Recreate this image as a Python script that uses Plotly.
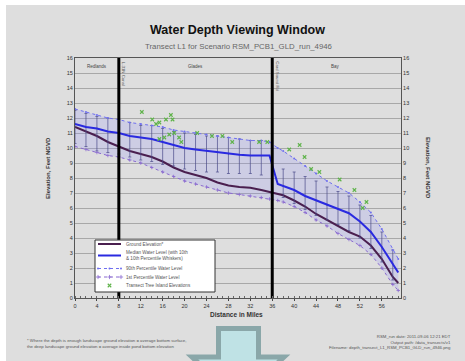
import plotly.graph_objects as go

# ---- profile data along the transect (distance in miles) ----
miles = [0, 2, 4, 6, 8, 10, 12, 14, 16, 18, 20, 22, 24, 26, 28, 30, 32, 34, 35.5, 37,
         38, 40, 42, 44, 46, 48, 50, 52, 54, 56, 58, 59]
ground = [11.4, 11.1, 10.8, 10.4, 10.1, 9.8, 9.6, 9.4, 9.1, 8.7, 8.4, 8.2, 8.0, 7.7, 7.5,
          7.4, 7.35, 7.2, 7.05, 6.95, 6.85, 6.5, 6.1, 5.6, 5.2, 4.8, 4.4, 4.1, 3.5, 2.6, 1.4, 1.0]
median = [11.6, 11.4, 11.3, 11.1, 11.0, 10.8, 10.7, 10.6, 10.4, 10.2, 10.0, 9.9, 9.8, 9.7,
          9.6, 9.55, 9.5, 9.5, 9.5, 7.6, 7.45, 7.2, 6.8, 6.5, 6.2, 5.95, 5.65, 5.1, 4.4, 3.4, 2.3, 1.7]
p90 = [12.6, 12.4, 12.2, 12.0, 11.9, 11.7, 11.6, 11.5, 11.4, 11.2, 11.1, 11.0, 10.9, 10.8,
       10.7, 10.6, 10.5, 10.5, 10.4, 10.0, 9.8, 9.3, 8.8, 8.3, 7.8, 7.4, 7.0, 6.4, 5.7, 4.6, 3.2, 2.6]
p1 = [10.1, 9.9, 9.7, 9.5, 9.4, 9.2, 9.0, 8.7, 8.4, 8.1, 7.8, 7.6, 7.4, 7.2, 7.0, 6.9, 6.8,
      6.7, 6.6, 6.5, 6.4, 6.1, 5.7, 5.2, 4.8, 4.3, 3.9, 3.5, 2.9, 2.0, 0.9, 0.5]

# whisker ends at the 2-mile stations
whisker_miles = [0, 2, 4, 6, 8, 10, 12, 14, 16, 18, 20, 22, 24, 26, 28, 30, 32, 34,
                 38, 40, 42, 44, 46, 48, 50, 52, 54, 56, 58]
whisker_hi = [12.5, 12.3, 12.1, 12.0, 11.9, 11.7, 11.5, 11.5, 11.3, 11.1, 11.0, 10.9, 10.8,
              10.8, 10.7, 10.6, 10.5, 10.5, 8.6, 8.4, 8.1, 7.8, 7.4, 7.1, 6.8, 6.2, 5.5, 4.4, 3.2]
whisker_lo = [10.3, 10.1, 9.8, 9.7, 9.6, 9.4, 9.2, 9.1, 8.9, 8.8, 8.6, 8.5, 8.4, 8.4, 8.3,
              8.3, 8.3, 8.2, 6.7, 6.3, 5.9, 5.5, 5.2, 4.9, 4.5, 4.0, 3.3, 2.4, 1.2]

# tree island elevations
island_miles = [12.2, 14.1, 14.8, 15.4, 15.4, 16.3, 16.6, 17.2, 17.5, 17.8, 18.1, 19.0, 19.4,
                22.3, 25.0, 26.9, 28.7, 33.6, 35.1, 39.1, 41.0, 41.9, 43.1, 44.6, 48.3,
                51.0, 52.5, 53.2]
island_elev = [12.4, 11.9, 11.6, 11.7, 10.6, 10.7, 11.9, 10.9, 12.2, 11.9, 11.0, 10.7, 10.4,
               11.0, 10.8, 10.8, 10.4, 10.4, 10.4, 9.9, 10.2, 9.4, 8.6, 8.4, 7.9, 7.2, 6.0, 6.4]

# structures crossing the transect and landscape zones
structure_miles = [8, 36]
structure_names = ["L-31N Canal", "Card Sound Rd"]
zone_miles = [4, 22, 47.5]
zone_names = ["Redlands", "Glades", "Bay"]

x_ticks = [0, 4, 8, 12, 16, 20, 24, 28, 32, 36, 40, 44, 48, 52, 56]
y_ticks = list(range(0, 17))

title = "<b>Water Depth Viewing Window</b>"
subtitle = "Transect L1 for Scenario RSM_PCB1_GLD_run_4946"
legend_labels = ["Ground Elevation*",
                 "Median Water Level (with 10th<br>& 10th Percentile Whiskers)",
                 "90th Percentile Water Level",
                 "1st Percentile Water Level",
                 "Transect Tree Island Elevations"]
footer_left = ("* Where the depth is enough landscape ground elevation = average bottom surface,<br>"
               "the deep landscape ground elevation = average inside pond bottom elevation")
footer_right = ("RSM_run date: 2011-09-06 12:21 EDT<br>"
                "Output path: /data_transects/v1<br>"
                "Filename: depth_transect_L1_RSM_PCB1_GLD_run_4946.png")

W, H = 465, 361
L, R, T, B = 75, 64, 58, 63
PW, PH = W - L - R, H - T - B


def px(xp):
    return (xp - L) / PW


def py(yp):
    return (H - B - yp) / PH


FONT = "Liberation Sans, Arial, sans-serif"
GROUND_C = "#4a1f4f"
BLUE = "#2a2ae0"
P90_C = "#6f6ff0"
P1_C = "#8a6ad0"
ISLAND_C = "#5fb34a"

fig = go.Figure()

# shaded envelope between the 1st and 90th percentile levels
fig.add_trace(go.Scatter(x=miles, y=p1, mode="lines", line=dict(width=0),
                         hoverinfo="skip", showlegend=False))
fig.add_trace(go.Scatter(x=miles, y=p90, mode="lines", line=dict(width=0),
                         fill="tonexty", fillcolor="rgba(140,140,255,0.2)",
                         hoverinfo="skip", showlegend=False))

fig.add_trace(go.Scatter(x=miles, y=ground, mode="lines",
                         line=dict(color=GROUND_C, width=2), showlegend=False))

# whiskers on the median level
wmed = [median[miles.index(m)] for m in whisker_miles]
fig.add_trace(go.Scatter(
    x=whisker_miles, y=wmed, mode="markers", marker=dict(size=1, color="#3a3a9a"),
    error_y=dict(type="data", symmetric=False,
                 array=[h - m for h, m in zip(whisker_hi, wmed)],
                 arrayminus=[m - l for l, m in zip(whisker_lo, wmed)],
                 color="#4a4a8a", thickness=0.7, width=1.5),
    showlegend=False, hoverinfo="skip"))

fig.add_trace(go.Scatter(x=miles, y=median, mode="lines",
                         line=dict(color=BLUE, width=2), showlegend=False))
fig.add_trace(go.Scatter(x=miles, y=p90, mode="lines+markers",
                         line=dict(color=P90_C, width=1, dash="dot"),
                         marker=dict(size=2, color=P90_C), showlegend=False))
fig.add_trace(go.Scatter(x=miles, y=p1, mode="lines+markers",
                         line=dict(color=P1_C, width=1, dash="dot"),
                         marker=dict(size=2.5, symbol="cross-thin", color=P1_C,
                                     line=dict(width=0.8, color=P1_C)),
                         showlegend=False))
fig.add_trace(go.Scatter(x=island_miles, y=island_elev, mode="markers",
                         marker=dict(size=3.5, symbol="x-thin", color=ISLAND_C,
                                     line=dict(width=1.1, color=ISLAND_C)),
                         showlegend=False))

# structures as heavy vertical lines
for m in structure_miles:
    fig.add_trace(go.Scatter(x=[m, m], y=[0, 16], mode="lines",
                             line=dict(color="black", width=3),
                             showlegend=False, hoverinfo="skip"))

# invisible trace so the right-hand axis is drawn
fig.add_trace(go.Scatter(x=[0], y=[0], yaxis="y2", mode="markers",
                         marker=dict(opacity=0), showlegend=False, hoverinfo="skip"))

# ---- legend panel, drawn in its own pixel-scaled subplot ----
LX0, LX1, LY0, LY1 = 95, 215, 240, 292
fig.add_trace(go.Scatter(x=[LX0, LX1, LX1, LX0, LX0], y=[LY0, LY0, LY1, LY1, LY0],
                         xaxis="x2", yaxis="y3", mode="lines", fill="toself",
                         fillcolor="white", line=dict(color="#333", width=1),
                         showlegend=False, hoverinfo="skip"))
row_y = [244, 255.5, 268.5, 277, 285.5]
sx0, sx1, sxm = 98, 121, 109.5
fig.add_trace(go.Scatter(x=[sx0, sx1], y=[row_y[0]] * 2, xaxis="x2", yaxis="y3",
                         mode="lines", line=dict(color=GROUND_C, width=2),
                         showlegend=False, hoverinfo="skip"))
fig.add_trace(go.Scatter(x=[sx0, sx1], y=[row_y[1]] * 2, xaxis="x2", yaxis="y3",
                         mode="lines", line=dict(color=BLUE, width=2),
                         showlegend=False, hoverinfo="skip"))
fig.add_trace(go.Scatter(x=[sx0, sxm, sx1], y=[row_y[2]] * 3, xaxis="x2", yaxis="y3",
                         mode="lines+markers", line=dict(color=P90_C, width=1, dash="dot"),
                         marker=dict(size=2, color=P90_C),
                         showlegend=False, hoverinfo="skip"))
fig.add_trace(go.Scatter(x=[sx0, sxm, sx1], y=[row_y[3]] * 3, xaxis="x2", yaxis="y3",
                         mode="lines+markers", line=dict(color=P1_C, width=1, dash="dot"),
                         marker=dict(size=3, symbol="cross-thin", color=P1_C,
                                     line=dict(width=0.8, color=P1_C)),
                         showlegend=False, hoverinfo="skip"))
fig.add_trace(go.Scatter(x=[sxm], y=[row_y[4]], xaxis="x2", yaxis="y3",
                         mode="markers",
                         marker=dict(size=3.5, symbol="x-thin", color=ISLAND_C,
                                     line=dict(width=1.1, color=ISLAND_C)),
                         showlegend=False, hoverinfo="skip"))

shapes = [
    # gray panel behind everything
    dict(type="rect", xref="paper", yref="paper", x0=px(6), x1=px(W + 2), y0=py(H + 2), y1=py(5),
         fillcolor="#dedede", line=dict(width=0), layer="below"),
]

# block arrow under the chart
arrow = [(218.5, 328.5), (258.5, 328.5), (258.5, 357), (284, 357), (238, 400),
         (192, 357), (218.5, 357)]
path = "M " + " L ".join(f"{px(a):.4f},{py(b):.4f}" for a, b in arrow) + " Z"
shapes.append(dict(type="path", xref="paper", yref="paper", path=path,
                   fillcolor="#bfe2e5", line=dict(color="#8aa7a9", width=5)))


def note(text, x, y, size, color="#333", xanchor="center", align="center", angle=0, bold=False):
    return dict(text=f"<b>{text}</b>" if bold else text, x=px(x), y=py(y),
                xref="paper", yref="paper", showarrow=False, xanchor=xanchor,
                yanchor="middle", align=align, textangle=angle,
                font=dict(size=size, family=FONT, color=color))


annotations = [
    note(title, 237, 30, 12.5, "#111"),
    note(subtitle, 238, 47, 7.8, "#666"),
    note("Distance in Miles", 236, 314, 6.5, "#333", bold=True),
    note("Elevation, Feet NGVD", 48, 168, 6, "#333", angle=-90, bold=True),
    note("Elevation, Feet NGVD", 428, 168, 6, "#333", angle=90, bold=True),
    note(footer_left, 25, 343.5, 4.3, "#555", xanchor="left", align="left"),
    note(footer_right, 453, 341.5, 4.3, "#555", xanchor="right", align="right"),
]
for ry, lab in zip(row_y, legend_labels):
    annotations.append(dict(text=lab, x=124, y=ry, xref="x2", yref="y3", showarrow=False,
                            xanchor="left", yanchor="middle", align="left",
                            font=dict(size=4.6, family=FONT, color="#555")))
for m, name in zip(zone_miles, zone_names):
    annotations.append(dict(text=name, x=m, y=15.45, xref="x", yref="y", showarrow=False,
                            xanchor="center", yanchor="middle",
                            font=dict(size=4.5, family=FONT, color="#444")))
for m, name in zip(structure_miles, structure_names):
    annotations.append(dict(text=name, x=m + 0.9, y=15.9, xref="x", yref="y", showarrow=False,
                            textangle=90, yanchor="top", xanchor="center",
                            font=dict(size=4.3, family=FONT, color="#555")))

axis_common = dict(showline=True, linecolor="#555", linewidth=1,
                   tickfont=dict(size=5.5, family=FONT, color="#333"))

fig.update_layout(
    width=W, height=H,
    margin=dict(l=L, r=R, t=T, b=B, pad=0),
    paper_bgcolor="white",
    plot_bgcolor="rgba(0,0,0,0)",
    showlegend=False,
    xaxis=dict(range=[0, 59.5], tickvals=x_ticks, ticks="outside", ticklen=2,
               showgrid=False, zeroline=False, mirror=True,
               minor=dict(dtick=1, ticks="inside", ticklen=2, tickcolor="#666"),
               **axis_common),
    yaxis=dict(range=[0, 16], tickvals=y_ticks, showgrid=True, gridcolor="#a8a8a8",
               gridwidth=0.6, zeroline=False, ticks="", mirror=False, **axis_common),
    yaxis2=dict(range=[0, 16], tickvals=y_ticks, overlaying="y", side="right",
                showgrid=False, zeroline=False, ticks="", **axis_common),
    xaxis2=dict(domain=[px(LX0 - 1), px(LX1 + 1)], range=[LX0 - 1, LX1 + 1],
                visible=False, anchor="y3"),
    yaxis3=dict(domain=[py(LY1 + 1), py(LY0 - 1)], range=[LY1 + 1, LY0 - 1],
                visible=False, anchor="x2"),
    shapes=shapes,
    annotations=annotations,
)

fig.write_html("out.html")
